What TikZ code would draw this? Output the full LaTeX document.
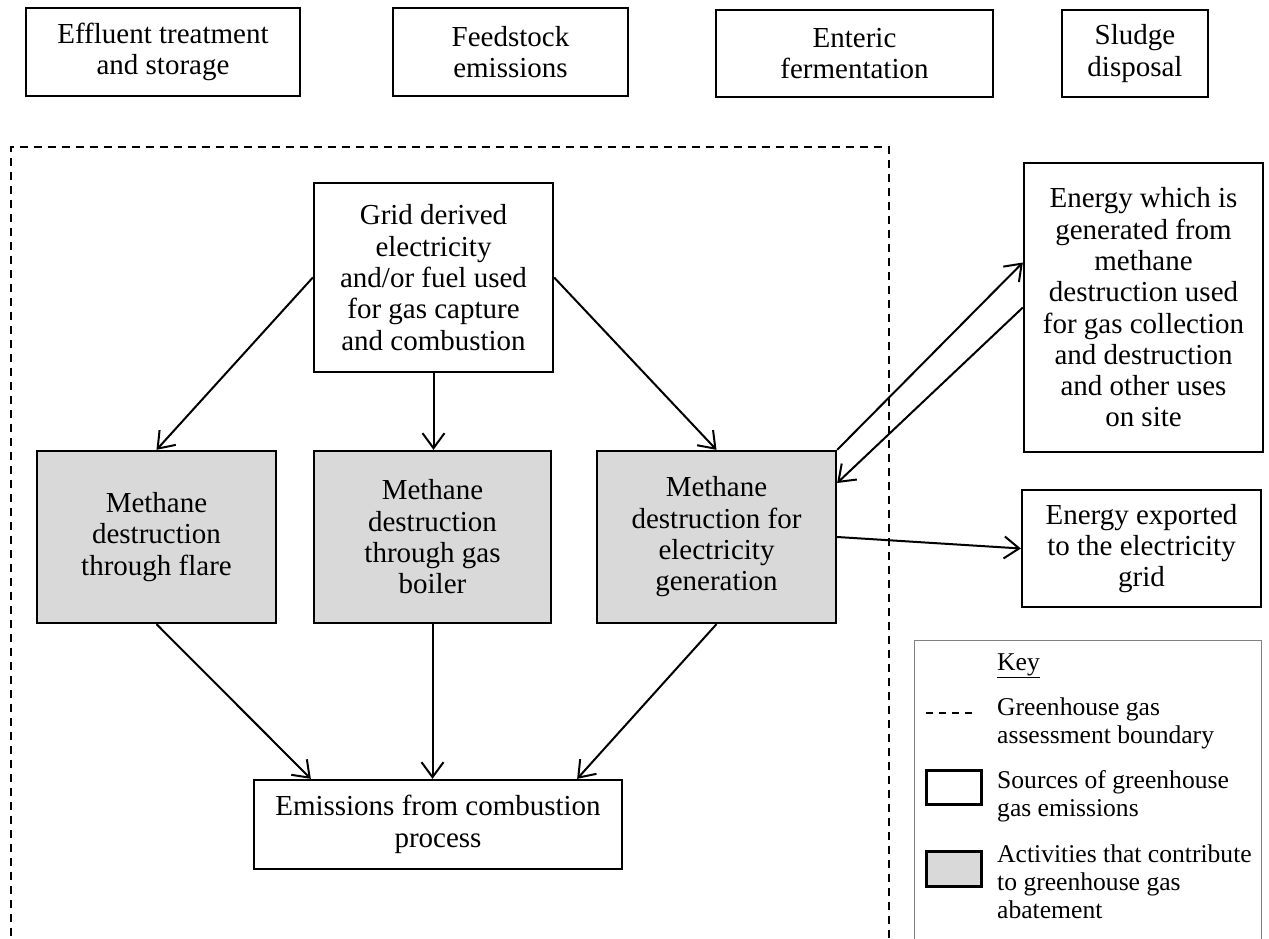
\documentclass[tikz,border=0pt]{standalone}
\usepackage{fontspec}
\setmainfont{Liberation Serif}
\usetikzlibrary{arrows.meta,calc}
\definecolor{abgray}{HTML}{D9D9D9}
\definecolor{keygray}{HTML}{7F7F7F}
\newcommand{\boxfont}{\fontsize{29}{31.3}\selectfont}
\newcommand{\keyfont}{\fontsize{25.6}{28}\selectfont}
\begin{document}
\begin{tikzpicture}[x=1pt,y=-1pt,
  src/.style={draw, line width=2.3pt, fill=white, align=center, inner sep=0pt, font=\boxfont},
  abat/.style={src, fill=abgray},
  flow/.style={line width=2pt, -{Straight Barb[length=15pt,width=22pt,line width=2pt]}},
  boundary/.style={line width=1.6pt, dash pattern=on 8pt off 6pt},
  keytext/.style={anchor=west, align=left, inner sep=0pt, font=\keyfont}]
\useasboundingbox (0,0) rectangle (1269,939);
\fill[white] (0,0) rectangle (1269,939);

% top sources
\node[src, minimum width=274pt, minimum height=88pt] (eff) at (163,52) {Effluent treatment\\and storage};
\node[src, minimum width=235pt, minimum height=88pt] (feed) at (510.5,52) {Feedstock\\emissions};
\node[src, minimum width=277pt, minimum height=87pt] (ent) at (854.5,53.5) {Enteric\\fermentation};
\node[src, minimum width=146pt, minimum height=87pt] (sludge) at (1135,53.5) {Sludge\\disposal};

% boundary
\draw[boundary] (10.7,950) -- (10.7,147) -- (889,147) -- (889,950);

% main nodes
\node[src, minimum width=239pt, minimum height=189pt] (grid) at (433.5,277.5) {Grid derived\\electricity\\and/or fuel used\\for gas capture\\and combustion};
\node[src, minimum width=239pt, minimum height=289pt] (energy) at (1143.5,307.5) {Energy which is\\generated from\\methane\\destruction used\\for gas collection\\and destruction\\and other uses\\on site};
\node[abat, minimum width=239pt, minimum height=172pt] (flare) at (156.5,537) {Methane\\destruction\\through flare};
\node[abat, minimum width=237pt, minimum height=172pt] (boiler) at (432.5,537) {Methane\\destruction\\through gas\\boiler};
\node[abat, minimum width=239pt, minimum height=172pt] (elec) at (716.5,537) {Methane\\destruction for\\electricity\\generation};
\node[src, minimum width=239pt, minimum height=117pt] (export) at (1141.5,548.5) {Energy exported\\to the electricity\\grid};
\node[src, minimum width=368pt, minimum height=89pt] (emis) at (438,824.5) {Emissions from combustion\\process};

% connectors
\draw[flow] (grid.west) -- (flare.north);
\draw[flow] (grid.south) -- (grid.south |- boiler.north);
\draw[flow] (grid.east) -- (elec.north);
\draw[flow] (flare.south) -- ($(emis.north west)+(58,0)$);
\draw[flow] (boiler.south) -- (boiler.south |- emis.north);
\draw[flow] (elec.south) -- ($(emis.north east)+(-46,0)$);
\draw[flow] (elec.north east) -- ([yshift=45pt]energy.west);
\draw[flow] (energy.west) -- ([yshift=54pt]elec.east);
\draw[flow] (elec.east) -- (export.west);

% key
\draw[keygray, line width=1pt] (914,960) -- (914,640) -- (1261,640) -- (1261,960);
\node[keytext] (kkey) at (997,666) {\underline{Key}};
\coordinate (kd1) at (926,713);
\coordinate (kd2) at (975,713);
\draw[line width=1.6pt, dash pattern=on 7pt off 6pt] (kd1) -- (kd2);
\node[keytext] (k1) at (997,723) {Greenhouse gas\\assessment boundary};
\node[src, line width=3pt, minimum width=55pt, minimum height=34pt] (ksrc) at (953.5,787) {};
\node[keytext] (k2) at (997,796) {Sources of greenhouse\\gas emissions};
\node[abat, line width=3pt, minimum width=55pt, minimum height=35pt] (kab) at (953.5,868.5) {};
\node[keytext] (k3) at (997,882) {Activities that contribute\\to greenhouse gas\\abatement};
\end{tikzpicture}
\end{document}
